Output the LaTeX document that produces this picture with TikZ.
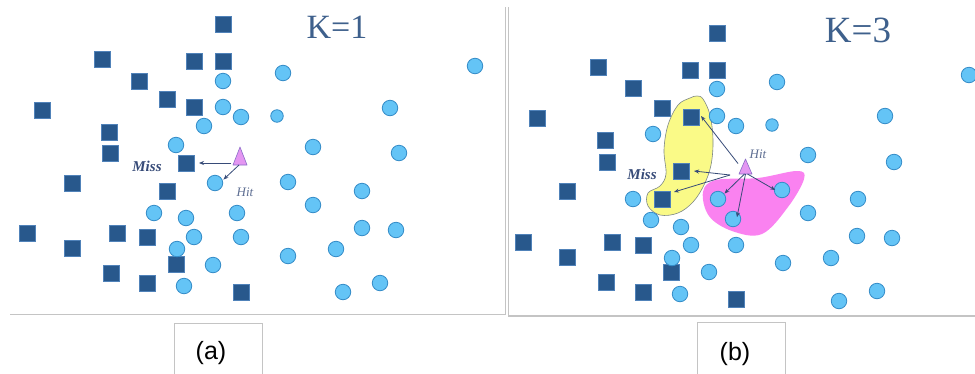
\documentclass[tikz,border=0pt]{standalone}
\usepackage{fontspec}
\setmainfont{Liberation Serif}
\newfontfamily\labfont{Liberation Sans}
\usetikzlibrary{arrows.meta}
\definecolor{sqfill}{RGB}{40,88,140}
\definecolor{sqline}{RGB}{80,130,185}
\definecolor{cifill}{RGB}{100,196,246}
\definecolor{ciline}{RGB}{52,140,200}
\definecolor{ktext}{RGB}{62,96,140}
\definecolor{arrcol}{RGB}{55,75,120}
\definecolor{trifill}{RGB}{228,150,242}
\definecolor{triline}{RGB}{140,110,200}
\definecolor{yelfill}{RGB}{250,250,135}
\definecolor{yelline}{RGB}{125,135,135}
\definecolor{pinkfill}{RGB}{250,130,240}
\definecolor{framecol}{RGB}{196,196,196}
\begin{document}
\begin{tikzpicture}[x=1pt,y=-1pt,
  sq/.style={draw=sqline,fill=sqfill,line width=0.7pt,minimum size=16pt,inner sep=0pt,outer sep=0pt},
  ci/.style={circle,draw=ciline,fill=cifill,line width=0.8pt,minimum size=15.5pt,inner sep=0pt,outer sep=0pt},
  cism/.style={ci,minimum size=12.5pt},
  arr/.style={draw=arrcol,line width=0.8pt,-{Stealth[length=5pt,width=4pt]}},
  kt/.style={text=ktext,font=\fontsize{34}{36}\selectfont,inner sep=0pt},
  misst/.style={text=arrcol,font=\fontsize{15}{16}\selectfont\bfseries\itshape,inner sep=0pt},
  hitt/.style={text=arrcol!80,font=\fontsize{13}{14}\selectfont\itshape,inner sep=0pt},
  tribox/.style={inner sep=0pt,outer sep=0pt},
  tri/.style={fill=trifill,draw=triline,line width=0.6pt,line join=round},
  frame/.style={draw=framecol,line width=1pt},
  labbox/.style={draw=framecol,line width=1pt,minimum width=88pt,minimum height=60pt,inner sep=0pt},
  labt/.style={font=\labfont\fontsize{25}{26}\selectfont,inner sep=0pt}]
\useasboundingbox (0,0) rectangle (975,373);
\fill[white] (0,0) rectangle (975,373);

% ---------- frames ----------
\draw[frame] (505,7) -- (505,314) -- (10,314);
\draw[frame,line width=1.6pt] (508.5,7) -- (508.5,316) -- (975,316);
\node[labbox,anchor=north west] (boxa) at (174,323) {};
\node[labbox,anchor=north west] (boxb) at (697,322) {};
\node[labt] (laba) at (211,353) {(a)};
\node[labt] (labb) at (735,354) {(b)};

% ---------- titles ----------
\node[kt] (k1) at (337,27) {K=1};
\node[kt,font=\fontsize{37}{39}\selectfont] (k3) at (858,30) {K=3};

% ---------- right panel blobs ----------
\fill[pinkfill] plot[smooth cycle,tension=0.6] coordinates {(703,192) (716,180) (758,178) (797,171) (804,179) (788,207) (762,234) (732,231) (709,216)};
\filldraw[fill=yelfill,draw=yelline,line width=0.6pt] plot[smooth cycle,tension=0.6] coordinates {(690,98) (697,96) (703,99) (710,115) (713,140) (711,165) (704,185) (693,202) (678,213) (660,215) (648,206) (648,193) (660,186) (666,174) (664,150) (668,125) (678,105)};

% ---------- left panel ----------
\foreach \x/\y [count=\i] in {223/24,102/59,194/61,223/61,139/81,167/99,194/107,42/110,109/132,110/153,72/183,167/191,27/233,117/233,147/237,72/248,176/264,111/273,147/283,241/292}
  \node[sq] (ls\i) at (\x,\y) {};
\node[sq] (lmiss) at (186,163) {};
\foreach \x/\y [count=\i] in {223/81,223/107,241/117,204/126,176/145,283/73,475/66,390/108,313/147,399/153,288/182,362/191,313/205,154/213,186/218,237/213,194/237,241/237,362/228,396/230,177/249,336/249,288/256,213/265,184/286,380/283,343/292}
  \node[ci] (lc\i) at (\x,\y) {};
\node[cism] (lcs) at (277,116) {};
\node[ci] (lhit) at (215,183) {};
\node[tribox,minimum width=14pt,minimum height=18pt] (tri1) at (240,156) {};
\draw[tri] (tri1.south west) -- (tri1.north) -- (tri1.south east) -- cycle;
\draw[arr] ([xshift=-2pt,yshift=2pt]tri1.south west) -- ([xshift=5pt]lmiss.east);
\draw[arr] ([xshift=-1pt]tri1.south) -- ([xshift=3pt,yshift=-2pt]lhit.north east);
\node[misst] (lmisst) at (147,166) {Miss};
\node[hitt] (lhitt) at (245,192) {Hit};

% ---------- right panel ----------
\foreach \x/\y [count=\i] in {717/33,598/67,690/70,717/70,633/88,662/108,537/118,605/140,607/162,567/191,523/242,612/242,643/245,567/257,671/272,606/282,643/292,736/299}
  \node[sq] (rs\i) at (\x,\y) {};
\node[sq] (ry1) at (691,117) {};
\node[sq] (ry2) at (681,171) {};
\node[sq] (ry3) at (662,199) {};
\foreach \x/\y [count=\i] in {717/89,777/82,969/75,717/116,736/126,885/116,653/134,808/155,894/162,633/199,651/220,681/227,808/213,858/199,691/245,736/245,857/236,892/238,672/258,831/258,783/263,709/272,680/294,877/291,839/301}
  \node[ci] (rc\i) at (\x,\y) {};
\node[cism] (rcs) at (772,125) {};
\node[ci] (rh1) at (718,199) {};
\node[ci] (rh2) at (733,219) {};
\node[ci] (rh3) at (782,190) {};
\node[tribox,minimum width=13pt,minimum height=15pt] (tri2) at (745.5,166.5) {};
\draw[tri] (tri2.south west) -- (tri2.north) -- (tri2.south east) -- cycle;
\draw[arr] ([xshift=-1pt,yshift=3pt]tri2.west) -- ([xshift=2pt,yshift=1pt]ry1.east);
\draw[arr] ([xshift=-9pt,yshift=-1pt]tri2.south west) -- ([xshift=5pt]ry2.east);
\draw[arr] ([xshift=-9pt,yshift=-1pt]tri2.south west) -- ([xshift=4pt,yshift=-1pt]ry3.north east);
\draw[arr] ([xshift=-1pt]tri2.south) -- ([xshift=1pt]rh1.north east);
\draw[arr] (tri2.south) -- ([xshift=4pt,yshift=-6pt]rh2.north);
\draw[arr] ([xshift=2pt]tri2.south) -- ([xshift=1pt]rh3.west);
\node[misst] (rmisst) at (642,174) {Miss};
\node[hitt] (rhitt) at (758,154) {Hit};
\end{tikzpicture}
\end{document}
